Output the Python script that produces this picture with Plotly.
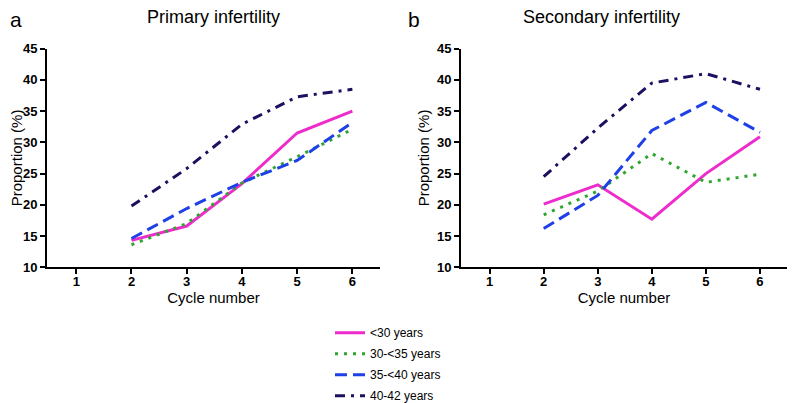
import plotly.graph_objects as go

cycles = [2, 3, 4, 5, 6]
groups = ["<30 years", "30-<35 years", "35-<40 years", "40-42 years"]

primary = {
    "<30 years": [14.3, 16.6, 23.4, 31.5, 35.0],
    "30-<35 years": [13.6, 17.0, 23.5, 27.7, 32.1],
    "35-<40 years": [14.6, 19.4, 23.6, 27.1, 33.2],
    "40-42 years": [19.8, 25.8, 32.9, 37.3, 38.5],
}
secondary = {
    "<30 years": [20.1, 23.2, 17.7, 25.0, 30.9],
    "30-<35 years": [18.4, 22.2, 28.2, 23.6, 24.9],
    "35-<40 years": [16.2, 21.5, 31.9, 36.4, 31.6],
    "40-42 years": [24.5, 32.3, 39.5, 41.0, 38.5],
}
x_ticks = [1, 2, 3, 4, 5, 6]
y_ticks = [10, 15, 20, 25, 30, 35, 40, 45]

styles = {
    "<30 years": dict(color="#ee2ccc", dash="solid"),
    "30-<35 years": dict(color="#2fa52f", dash="3px,6px"),
    "35-<40 years": dict(color="#1e40e6", dash="12px,6px"),
    "40-42 years": dict(color="#1c1060", dash="10px,6px,3px,6px"),
}

FONT = "Liberation Sans, Arial, sans-serif"
W, H = 798, 403
OFF = 8  # page body margin


def fx(px):
    return (px - OFF) / W


def fy(py):
    return 1 - (py - OFF) / H


fig = go.Figure()
for panel, data in [(1, primary), (2, secondary)]:
    for g in groups:
        fig.add_trace(go.Scatter(
            x=cycles, y=data[g], mode="lines", name=g, legendgroup=g,
            line=dict(color=styles[g]["color"], dash=styles[g]["dash"], width=3),
            xaxis="x" if panel == 1 else "x2",
            yaxis="y" if panel == 1 else "y2",
            showlegend=(panel == 1),
        ))

axis_common = dict(
    showline=True, linecolor="black", linewidth=2, ticks="outside",
    ticklen=5, tickwidth=2, tickcolor="black", showgrid=False, zeroline=False,
    tickfont=dict(family=FONT, size=13, color="black", weight="bold"),
)
xcommon = dict(axis_common, tickvals=x_ticks, range=[0.47, 6.5], ticklabelstandoff=-4,
               title=dict(text="Cycle number", font=dict(family=FONT, size=15, color="black"), standoff=0))
ycommon = dict(axis_common, tickvals=y_ticks, range=[10, 45],
               title=dict(text="Proportion (%)", font=dict(family=FONT, size=15, color="black"), standoff=4))

fig.update_layout(
    width=W, height=H,
    paper_bgcolor="white", plot_bgcolor="white",
    margin=dict(l=0, r=0, t=0, b=0),
    xaxis=dict(xcommon, domain=[fx(47), fx(380)], anchor="y"),
    yaxis=dict(ycommon, domain=[fy(270), fy(43)], anchor="x"),
    xaxis2=dict(xcommon, domain=[fx(461), fx(787)], anchor="y2"),
    yaxis2=dict(ycommon, domain=[fy(270), fy(43)], anchor="x2"),
    legend=dict(x=fx(330), y=fy(323), xanchor="left", yanchor="top",
                font=dict(family=FONT, size=12, color="black"),
                itemwidth=30, tracegroupgap=2, bgcolor="rgba(0,0,0,0)"),
    annotations=[
        dict(text="Primary infertility", x=fx(213), y=fy(10), xref="paper", yref="paper",
             xanchor="center", yanchor="middle", showarrow=False,
             font=dict(family=FONT, size=18, color="black")),
        dict(text="Secondary infertility", x=fx(601), y=fy(10), xref="paper", yref="paper",
             xanchor="center", yanchor="middle", showarrow=False,
             font=dict(family=FONT, size=18, color="black")),
        dict(text="a", x=0, y=fy(13), xref="paper", yref="paper",
             xanchor="left", yanchor="middle", showarrow=False,
             font=dict(family=FONT, size=21, color="black")),
        dict(text="b", x=fx(406), y=fy(13), xref="paper", yref="paper",
             xanchor="left", yanchor="middle", showarrow=False,
             font=dict(family=FONT, size=21, color="black")),
    ],
)

fig.write_html("out.html")
